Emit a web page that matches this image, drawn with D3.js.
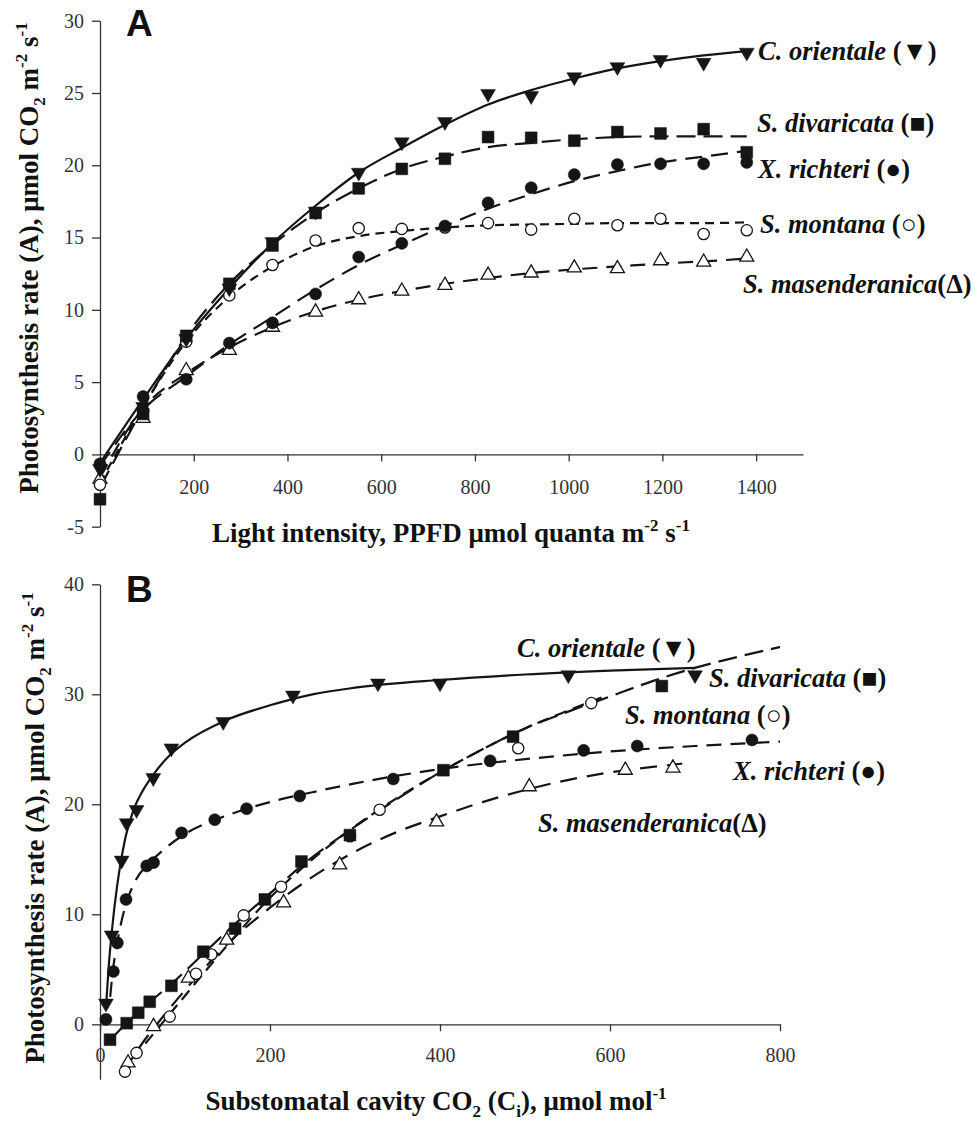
<!DOCTYPE html>
<html>
<head>
<meta charset="utf-8">
<script src="https://cdn.jsdelivr.net/npm/d3@7"></script>
<style>
  body { margin: 0; background: #fff; }
  svg { display: block; }
  .tick text { font-family: "Liberation Serif", "Times New Roman", serif; font-size: 20px; fill: #333; }
  .tick line, .domain { stroke: #333; stroke-width: 1.3; }
  .title { font-family: "Liberation Serif", "Times New Roman", serif; font-weight: bold; font-size: 27px; fill: #111; }
  .sp { font-family: "Liberation Serif", "Times New Roman", serif; font-weight: bold; font-style: italic; font-size: 26.5px; fill: #111; }
  .panel { font-family: "Liberation Sans", Arial, sans-serif; font-weight: bold; font-size: 37px; fill: #111; }
</style>
</head>
<body>
<svg id="chart" width="975" height="1122"></svg>
<script>
// ---- panel A : light response ----
var ppfd = [0, 92, 184, 276, 368, 460, 552, 644, 736, 828, 920, 1012, 1104, 1196, 1288, 1380];
var aOrientale  = [-1.0, 3.3, 8.0, 11.5, 14.7, 16.8, 19.5, 21.6, 23.0, 24.95, 24.8, 26.1, 26.8, 27.3, 27.1, 27.8];
var aDivaricata = [-3.1, 2.8, 8.2, 11.8, 14.45, 16.7, 18.4, 19.75, 20.45, 21.95, 21.9, 21.7, 22.3, 22.2, 22.5, 20.9];
var aRichteri   = [-0.65, 4.0, 5.2, 7.7, 9.1, 11.1, 13.65, 14.6, 15.8, 17.4, 18.45, 19.35, 20.05, 20.1, 20.1, 20.2];
var aMontana    = [-2.1, 3.0, 7.8, 11.0, 13.1, 14.8, 15.65, 15.6, 15.7, 16.0, 15.55, 16.3, 15.85, 16.3, 15.25, 15.5];
var aMasend     = [-1.7, 2.5, 5.8, 7.2, 8.8, 9.85, 10.7, 11.3, 11.7, 12.4, 12.55, 12.9, 12.85, 13.4, 13.3, 13.65];
// fitted curves, at the same ppfd steps
var fitAOrientale  = [-0.6, 3.8, 8.0, 11.5, 14.6, 17.2, 19.5, 21.2, 22.8, 24.2, 25.2, 26.0, 26.7, 27.2, 27.6, 27.9];
var fitADivaricata = [-2.3, 3.2, 8.2, 11.8, 14.5, 16.7, 18.4, 19.75, 20.6, 21.25, 21.55, 21.8, 21.95, 22.0, 22.0, 22.0];
var fitARichteri   = [-0.8, 3.1, 5.4, 7.6, 9.5, 11.4, 13.1, 14.5, 15.8, 17.0, 18.0, 18.9, 19.6, 20.2, 20.6, 21.0];
var fitAMontana    = [-2.0, 3.3, 7.8, 10.9, 13.0, 14.4, 15.1, 15.45, 15.7, 15.85, 15.9, 15.95, 16.0, 16.0, 16.0, 16.05];
var fitAMasend     = [-1.6, 3.2, 5.6, 7.4, 8.8, 9.9, 10.7, 11.3, 11.8, 12.2, 12.55, 12.8, 13.0, 13.2, 13.35, 13.55];
var xTicksA = [200, 400, 600, 800, 1000, 1200, 1400];
var yTicksA = [-5, 0, 5, 10, 15, 20, 25, 30];

// ---- panel B : CO2 response ----
var ciOrientale  = [7, 13.7, 25.5, 31.4, 43, 62.7, 84, 145, 227, 327, 400, 551, 700];
var bOrientale   = [1.9, 8.1, 14.9, 18.3, 19.5, 22.4, 25.1, 27.5, 29.9, 31.0, 31.0, 31.75, 31.75];
var ciRichteri   = [7, 15.7, 20.4, 30.6, 55, 63, 96, 135, 172.5, 235, 345, 459, 569, 632, 767];
var bRichteri    = [0.45, 4.8, 7.4, 11.35, 14.4, 14.7, 17.4, 18.6, 19.6, 20.75, 22.3, 23.95, 24.9, 25.3, 25.85];
var ciDivaricata = [11.8, 31.4, 45, 58.5, 84, 121.5, 159, 194, 237, 294, 404, 486, 661];
var bDivaricata  = [-1.4, 0.1, 1.05, 2.05, 3.5, 6.6, 8.7, 11.35, 14.8, 17.2, 23.1, 26.15, 30.75];
var ciMontana    = [29.4, 43, 82, 113, 131, 169, 213, 294, 329, 492, 578];
var bMontana     = [-4.3, -2.6, 0.7, 4.6, 6.35, 9.9, 12.5, 17.1, 19.5, 25.1, 29.2];
var ciMasend     = [33, 63, 104, 149, 216, 282, 396, 505, 618, 674];
var bMasend      = [-3.5, -0.2, 4.2, 7.65, 11.05, 14.5, 18.4, 21.6, 23.1, 23.3];

var fitCiOrientale = [7, 10, 14, 20, 25, 30, 40, 50, 60, 80, 100, 150, 200, 250, 300, 400, 500, 600, 700];
var fitBOrientale  = [1.5, 5.0, 8.5, 12.5, 15.0, 17.0, 19.6, 21.2, 22.4, 24.3, 25.6, 27.7, 29.0, 30.0, 30.6, 31.3, 31.8, 32.15, 32.4];
var fitCiRichteri  = [12, 15, 20, 30, 40, 60, 80, 100, 150, 200, 250, 300, 350, 400, 500, 600, 700, 800];
var fitBRichteri   = [2.5, 4.8, 7.3, 10.8, 12.8, 14.8, 16.2, 17.3, 19.0, 20.2, 21.1, 21.9, 22.6, 23.2, 24.1, 24.8, 25.3, 25.7];
var fitCiDivaricata = [10, 30, 60, 90, 120, 160, 200, 240, 280, 320, 360, 400, 450, 500, 550, 600, 650, 700, 750, 800];
var fitBDivaricata  = [-1.6, 0.0, 2.1, 4.1, 6.3, 9.2, 11.9, 14.6, 16.9, 19.0, 21.0, 22.9, 25.0, 26.9, 28.4, 29.8, 31.2, 32.4, 33.4, 34.3];
var fitCiMontana = [28, 50, 70, 100, 150, 200, 250, 300, 350, 400, 450, 500, 550, 590];
var fitBMontana  = [-4.6, -2.1, -0.2, 2.6, 7.2, 11.5, 15.0, 18.0, 20.6, 22.9, 25.0, 26.9, 28.5, 29.7];
var fitCiMasend  = [28, 50, 70, 100, 150, 200, 250, 300, 350, 400, 450, 500, 550, 600, 650, 685];
var fitBMasend   = [-4.3, -1.7, 0.3, 3.1, 7.3, 10.6, 13.4, 15.7, 17.5, 18.9, 20.2, 21.3, 22.2, 22.9, 23.4, 23.7];
var xTicksB = [0, 200, 400, 600, 800];
var yTicksB = [0, 10, 20, 30, 40];

var names = ["C. orientale", "S. divaricata", "X. richteri", "S. montana", "S. masenderanica"];
var glyphs = ["(\u25BC)", "(\u25A0)", "(\u25CF)", "(\u25CB)", "(\u0394)"];

var svg = d3.select("#chart");
var ink = "#151515";

var markers = {
  tri:   {type: d3.symbolTriangle, size: 95, rot: 180, fill: ink},
  sq:    {type: d3.symbolSquare, size: 140, rot: 0, fill: ink},
  dot:   {type: d3.symbolCircle, size: 115, rot: 0, fill: ink},
  ring:  {type: d3.symbolCircle, size: 100, rot: 0, fill: "#fff"},
  otri:  {type: d3.symbolTriangle, size: 85, rot: 0, fill: "#fff"}
};

function zip(xs, ys) { return xs.map(function(x, i) { return [x, ys[i]]; }); }

function drawPanel(cfg) {
  var g = svg.append("g");
  var x = d3.scaleLinear().domain(cfg.xDomain).range(cfg.xRange);
  var y = d3.scaleLinear().domain(cfg.yDomain).range(cfg.yRange);

  g.append("g").attr("transform", "translate(" + cfg.xRange[0] + ",0)")
    .call(d3.axisLeft(y).tickValues(cfg.yTicks).tickSize(8).tickSizeOuter(0).tickPadding(8)
      .tickFormat(function(d) { return String(d); }));
  g.append("g").attr("transform", "translate(0," + y(0) + ")")
    .call(d3.axisBottom(x).tickValues(cfg.xTicks).tickSize(7).tickSizeOuter(0).tickPadding(cfg.xPad)
      .tickFormat(function(d) { return String(d); }));

  var line = d3.line().x(function(d) { return x(d[0]); }).y(function(d) { return y(d[1]); })
    .curve(d3.curveMonotoneX);

  cfg.series.forEach(function(s) {
    g.append("path").datum(zip(s.fx, s.fy)).attr("d", line)
      .attr("fill", "none").attr("stroke", ink).attr("stroke-width", 2.2)
      .attr("stroke-dasharray", s.dash);
  });
  cfg.series.forEach(function(s) {
    var m = markers[s.mark];
    g.selectAll(null).data(zip(s.px, s.py)).enter().append("path")
      .attr("d", d3.symbol().type(m.type).size(m.size))
      .attr("transform", function(d) {
        return "translate(" + x(d[0]) + "," + y(d[1]) + ") rotate(" + m.rot + ")";
      })
      .attr("fill", m.fill).attr("stroke", ink).attr("stroke-width", m.fill === ink ? 0.5 : 1.3);
  });

  cfg.labels.forEach(function(l) {
    var t = g.append("text").attr("class", "sp").attr("x", l[0]).attr("y", l[1]);
    t.append("tspan").text(names[l[2]] + (l[2] === 4 ? "" : " "));
    t.append("tspan").attr("font-style", "normal").text(glyphs[l[2]]);
  });

  g.append("text").attr("class", "panel").attr("x", 126).attr("y", cfg.letterY).text(cfg.letter);

  var yt = g.append("text").attr("class", "title").attr("text-anchor", "middle")
    .attr("transform", "translate(" + cfg.yTitle[0] + "," + cfg.yTitle[1] + ") rotate(-90)");
  yt.append("tspan").text("Photosynthesis rate (A), \u03BCmol CO");
  yt.append("tspan").attr("font-size", 17).attr("dy", 7).text("2");
  yt.append("tspan").attr("dy", -7).text(" m");
  yt.append("tspan").attr("font-size", 17).attr("dy", -11).text("-2");
  yt.append("tspan").attr("dy", 11).text(" s");
  yt.append("tspan").attr("font-size", 17).attr("dy", -11).text("-1");

  var xt = g.append("text").attr("class", "title").attr("text-anchor", "middle")
    .attr("x", cfg.xTitle[0]).attr("y", cfg.xTitle[1]);
  cfg.xTitleParts.forEach(function(p) {
    var ts = xt.append("tspan").text(p[0]);
    if (p[1] === "sup") ts.attr("font-size", 17).attr("dy", -11);
    if (p[1] === "sub") ts.attr("font-size", 17).attr("dy", 7);
    if (p[1] === "back") ts.attr("dy", p[2]);
  });
}

drawPanel({
  letter: "A", letterY: 36,
  xDomain: [0, 1500], xRange: [100, 803],
  yDomain: [-5, 30], yRange: [526.7, 20.7],
  xTicks: xTicksA, yTicks: yTicksA, xPad: 18,
  series: [
    {px: ppfd, py: aMasend, fx: ppfd, fy: fitAMasend, mark: "otri", dash: "15,9"},
    {px: ppfd, py: aMontana, fx: ppfd, fy: fitAMontana, mark: "ring", dash: "9,6"},
    {px: ppfd, py: aRichteri, fx: ppfd, fy: fitARichteri, mark: "dot", dash: "17,9"},
    {px: ppfd, py: aOrientale, fx: ppfd, fy: fitAOrientale, mark: "tri", dash: null},
    {px: ppfd, py: aDivaricata, fx: ppfd, fy: fitADivaricata, mark: "sq", dash: "19,8"}
  ],
  labels: [[758, 60, 0], [757, 132, 1], [758, 178, 2], [760, 233, 3], [743, 293, 4]],
  yTitle: [38, 258],
  xTitle: [451, 542],
  xTitleParts: [["Light intensity, PPFD \u03BCmol quanta m"], ["-2", "sup"], [" s", "back", 11], ["-1", "sup"]]
});

drawPanel({
  letter: "B", letterY: 601.5,
  xDomain: [0, 800], xRange: [100, 780],
  yDomain: [-5, 40], yRange: [1079.3, 584.3],
  xTicks: xTicksB, yTicks: yTicksB, xPad: 17,
  series: [
    {px: ciMasend, py: bMasend, fx: fitCiMasend, fy: fitBMasend, mark: "otri", dash: "17,10"},
    {px: ciMontana, py: bMontana, fx: fitCiMontana, fy: fitBMontana, mark: "ring", dash: "12,7"},
    {px: ciRichteri, py: bRichteri, fx: fitCiRichteri, fy: fitBRichteri, mark: "dot", dash: "15,9"},
    {px: ciDivaricata, py: bDivaricata, fx: fitCiDivaricata, fy: fitBDivaricata, mark: "sq", dash: "19,8"},
    {px: ciOrientale, py: bOrientale, fx: fitCiOrientale, fy: fitBOrientale, mark: "tri", dash: null}
  ],
  labels: [[517, 657, 0], [709, 687, 1], [625, 724, 3], [733, 780, 2], [538, 832, 4]],
  yTitle: [44, 828],
  xTitle: [436, 1110],
  xTitleParts: [["Substomatal cavity CO"], ["2", "sub"], [" (C", "back", -7], ["i", "sub"], ["), \u03BCmol mol", "back", -7], ["-1", "sup"]]
});
</script>
</body>
</html>
